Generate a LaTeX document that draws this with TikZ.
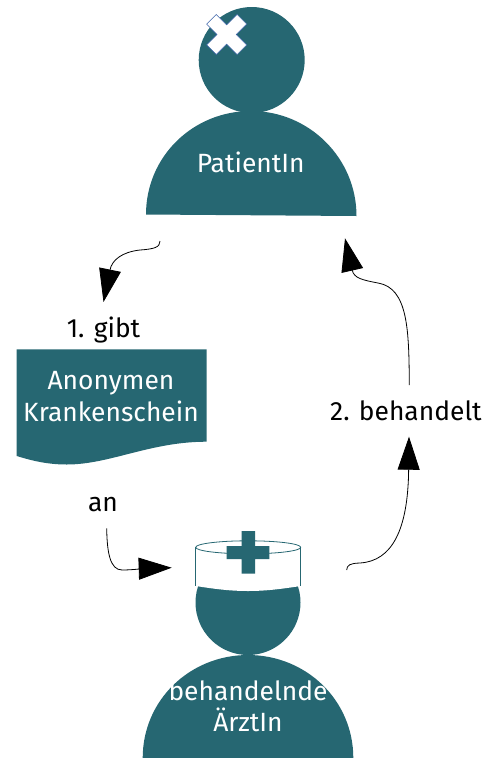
\documentclass[tikz,border=0pt]{standalone}
\usepackage{fontspec}
\setmainfont{Fira Sans}
\usetikzlibrary{arrows.meta}
\definecolor{teal1}{HTML}{266772}
\definecolor{crossblue}{HTML}{3B62A8}
\tikzset{
  figure/.style={fill=teal1,draw=none},
  onteal/.style={anchor=base,text=white,font=\fontsize{26.4}{26.4}\selectfont,inner sep=0pt},
  label/.style={anchor=base,text=black,font=\fontsize{26.4}{26.4}\selectfont,inner sep=0pt},
  flow/.style={draw=black,line width=0.8pt,-{Triangle[length=33pt,width=22pt]}},
}
\begin{document}
\begin{tikzpicture}[x=1pt,y=-1pt]
\useasboundingbox (0,0) rectangle (496,758);
% patient
\fill[figure] (251.7,60) circle[radius=53pt];
\fill[figure] (146,214.5) .. controls (146,156.5) and (193,111) .. (251,111)
  .. controls (309,111) and (356.5,158) .. (356.5,216) -- cycle;
\draw[crossblue,fill=white,line width=0.5pt,rotate around={45:(226.7,34.5)}]
  (219.9,13) -- (233.5,13) -- (233.5,27.7) -- (248.2,27.7) -- (248.2,41.3) -- (233.5,41.3)
  -- (233.5,56) -- (219.9,56) -- (219.9,41.3) -- (205.2,41.3) -- (205.2,27.7) -- (219.9,27.7) -- cycle;
\node[onteal] (patient) at (250.7,172) {PatientIn};
% document
\fill[figure] (16.7,349.3) -- (206.7,349.3) -- (206.7,441.7)
  .. controls (150,441.7) and (110,464.5) .. (66.7,464.5)
  .. controls (48,464.5) and (33,461) .. (16.7,456) -- cycle;
\node[onteal] (doca) at (111,389) {Anonymen};
\node[onteal] (docb) at (111,421) {Krankenschein};
% doctor
\fill[figure] (248,602.5) circle[radius=52.5pt];
\fill[figure] (142.7,758) .. controls (142.7,700) and (190,655) .. (248,655)
  .. controls (306,655) and (353.3,700) .. (353.3,758) -- cycle;
\fill[white] (195.7,547.3) -- (195.7,586)
  .. controls (215,589) and (230,591) .. (248,591)
  .. controls (266,591) and (281,589) .. (300.7,586) -- (300.7,547.3) -- cycle;
\draw[teal1,line width=0.8pt] (195.7,547.3) -- (195.7,586) (300.7,547.3) -- (300.7,586);
\draw[teal1,line width=0.8pt] (248.2,547.3) ellipse[x radius=52.5pt,y radius=6.5pt];
\fill[teal1] (241.7,531) rectangle (255,573.7) (226.7,546) rectangle (269.3,559);
\node[onteal] (doctora) at (248,700) {behandelnde};
\node[onteal] (doctorb) at (248,731.7) {ÄrztIn};
% labels
\node[label] (gibt) at (103.5,337) {1. gibt};
\node[label] (an) at (103,511.7) {an};
\node[label] (behandelt) at (406,420) {2. behandelt};
% connectors
\coordinate (s1) at (160,241);
\coordinate (t1) at (103.5,302);
\coordinate (s2) at (106.7,528.3);
\coordinate (t2) at (171.7,567.7);
\coordinate (s3) at (346.7,570);
\coordinate (t3) at (409,436.7);
\coordinate (s4) at (409.3,385);
\coordinate (t4) at (345,238.3);
\draw[flow] (s1) .. controls (160,247) and (155,249) .. (140,250)
  .. controls (122,252) and (112,260) .. (t1);
\draw[flow] (s2) .. controls (107,552) and (110,570) .. (122,570)
  .. controls (132,570) and (145,568.5) .. (t2);
\draw[flow] (s3) .. controls (347,565) and (350,563.3) .. (360,563)
  .. controls (392,561) and (408,530) .. (t3);
\draw[flow] (s4) .. controls (409,330) and (408,288) .. (378,283)
  .. controls (362,280) and (354,278) .. (t4);
\end{tikzpicture}
\end{document}
